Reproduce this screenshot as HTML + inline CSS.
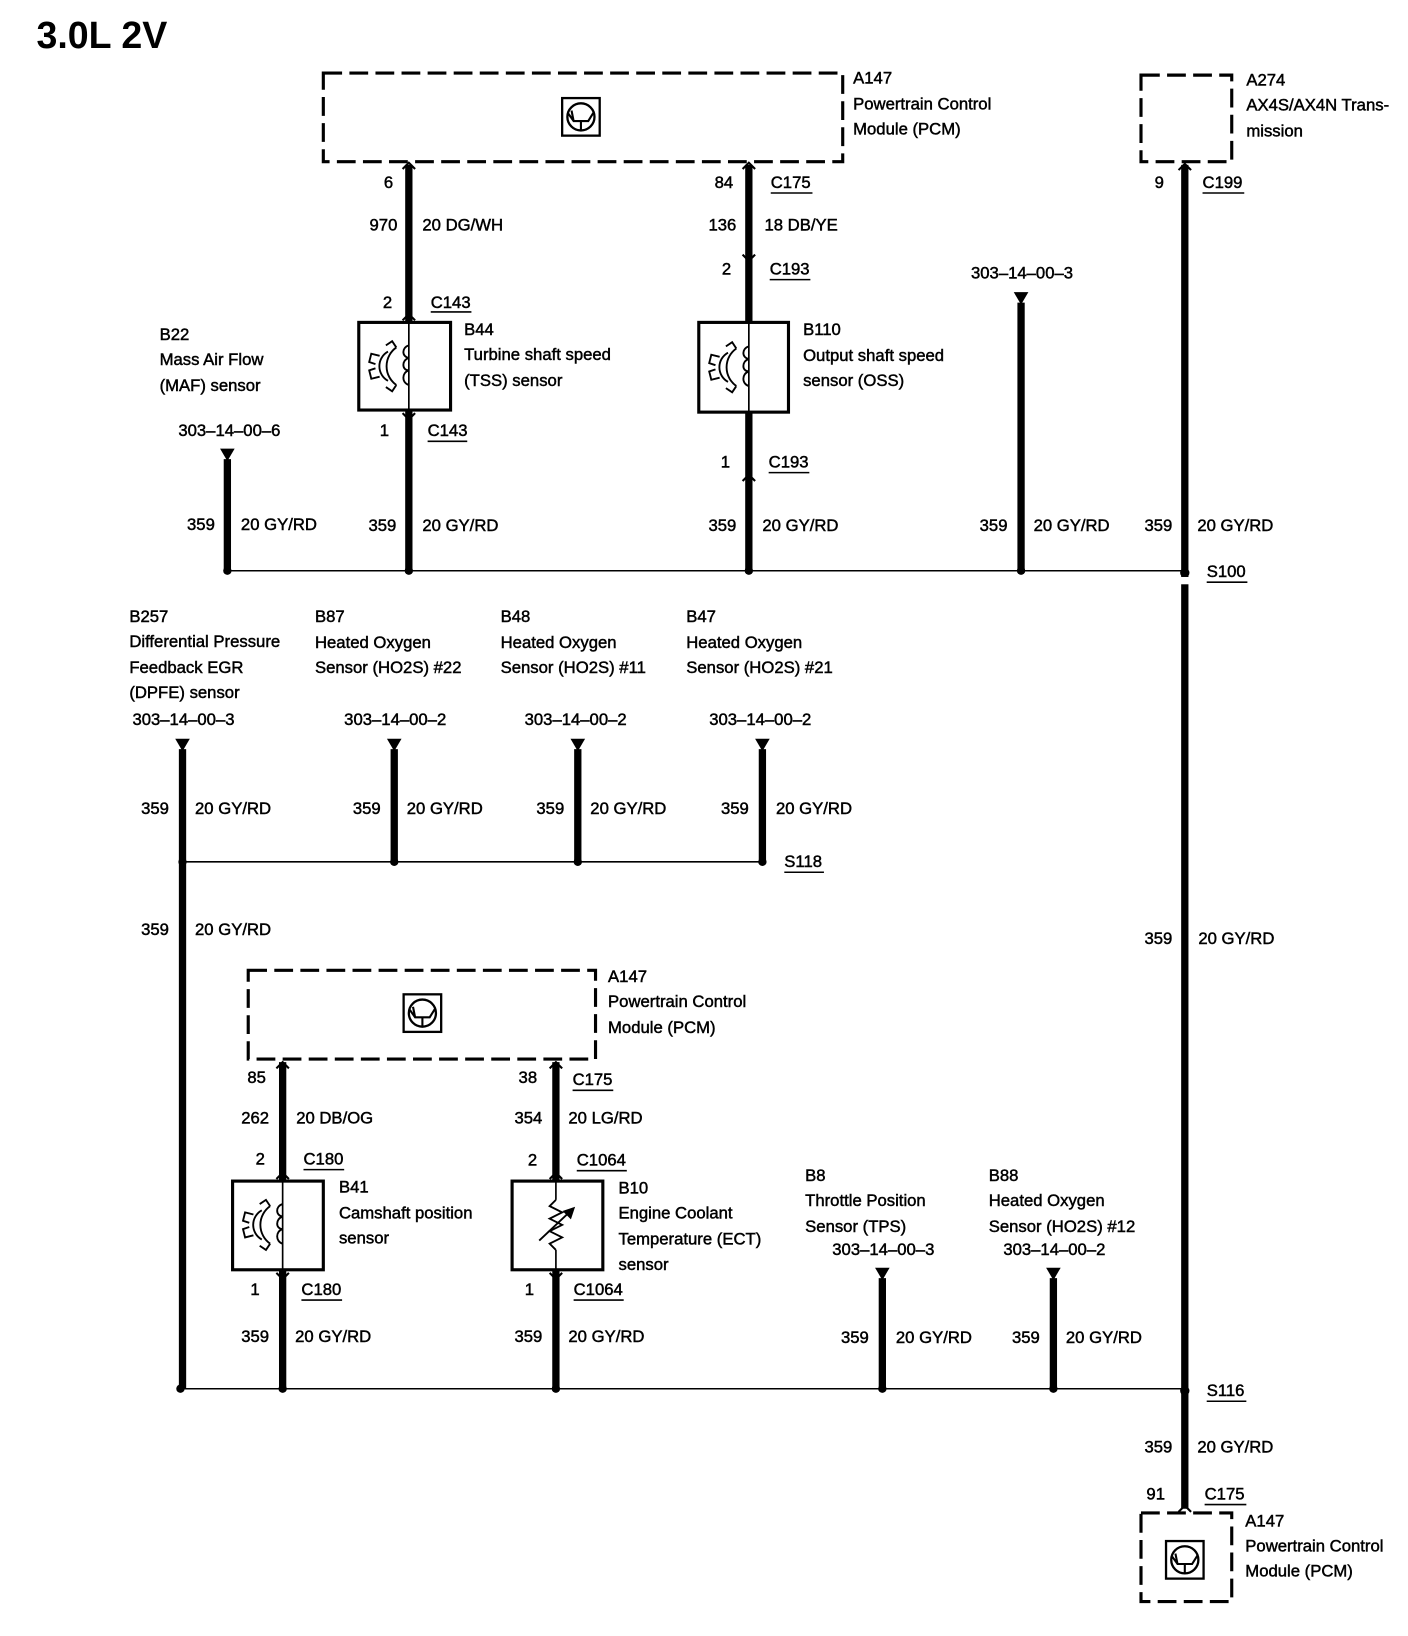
<!DOCTYPE html>
<html><head><meta charset="utf-8"><style>
html,body{margin:0;padding:0;background:#fff;}
svg{display:block;}
text{font-family:"Liberation Sans",Arial,sans-serif;font-size:16px;fill:#000;stroke:#000;stroke-width:0.45;}
.t{font-weight:bold;font-size:36px;stroke:none;}
.r{text-anchor:end;}
</style></head><body>
<svg width="1408" height="1636" viewBox="0 0 1350 1568" preserveAspectRatio="none" xmlns="http://www.w3.org/2000/svg">
<defs>
  <g id="pcm"><rect x="-18" y="-18" width="36" height="36" fill="none" stroke="#000" stroke-width="2.2"/><circle cx="0" cy="0" r="13" fill="none" stroke="#000" stroke-width="2.2"/><path d="M-12,-3 L-7,4 L7,4 L12,-4 M0,4 L0,13 M-9,-6 L-7,4" fill="none" stroke="#000" stroke-width="2"/></g>
  <g id="gear" fill="none" stroke="#000" stroke-width="1.8"><path d="M14,-18 A22,22 0 0 0 14,18 M14,-18 L10,-24 L4,-20 M14,18 L10,24 L4,20 M-2,-10 L-10,-12 L-12,-4 L-6,-2 M-2,10 L-10,12 L-12,4 L-6,2 M6,-14 A16,16 0 0 0 6,14"/></g>
  <g id="coil" fill="none" stroke="#000" stroke-width="1.8"><path d="M0,-20 C-7,-18 -7,-9 0,-8 C-7,-6 -7,4 0,4 C-7,6 -7,16 0,18"/></g>
  <g id="tri"><polygon points="-7,0 7,0 0,12" fill="#000"/></g>
  <g id="chevU"><path d="M-6,6 L0,0 L6,6" fill="none" stroke="#000" stroke-width="2"/></g>
  <g id="chevD"><path d="M-6,-6 L0,0 L6,-6" fill="none" stroke="#000" stroke-width="2"/></g>
</defs>
<text class="t" x="35" y="46">3.0L 2V</text>

<g stroke="#000" stroke-width="1.5" fill="none">
<line x1="218" y1="547" x2="1136" y2="547"/>
<line x1="175" y1="826" x2="731" y2="826"/>
<line x1="173" y1="1331" x2="1136" y2="1331"/>
</g>
<g stroke="#000" stroke-width="3" fill="none" stroke-dasharray="18,7">
<rect x="310" y="70" width="498" height="85"/>
<rect x="1094" y="72" width="87" height="83"/>
<rect x="238" y="930" width="333" height="85"/>
<rect x="1094" y="1450" width="87" height="85"/>
</g>
<use href="#pcm" x="557" y="112"/>
<use href="#pcm" x="405" y="971"/>
<use href="#pcm" x="1136" y="1495"/>

<g stroke="#000" stroke-width="7">
<line x1="392" y1="158" x2="392" y2="309"/>
<line x1="392" y1="393" x2="392" y2="547"/>
<line x1="718" y1="158" x2="718" y2="309"/>
<line x1="718" y1="395" x2="718" y2="547"/>
<line x1="218" y1="440" x2="218" y2="547"/>
<line x1="979" y1="290" x2="979" y2="547"/>
<line x1="1136" y1="158" x2="1136" y2="1446"/>
<line x1="175" y1="718" x2="175" y2="1331"/>
<line x1="378" y1="718" x2="378" y2="826"/>
<line x1="554" y1="718" x2="554" y2="826"/>
<line x1="731" y1="718" x2="731" y2="826"/>
<line x1="271" y1="1018" x2="271" y2="1132"/>
<line x1="271" y1="1217" x2="271" y2="1331"/>
<line x1="533" y1="1018" x2="533" y2="1132"/>
<line x1="533" y1="1217" x2="533" y2="1331"/>
<line x1="846" y1="1225" x2="846" y2="1331"/>
<line x1="1010" y1="1225" x2="1010" y2="1331"/>
</g>
<use href="#tri" x="218" y="430"/><use href="#tri" x="979" y="280"/>
<use href="#tri" x="175" y="708"/><use href="#tri" x="378" y="708"/>
<use href="#tri" x="554" y="708"/><use href="#tri" x="731" y="708"/>
<use href="#tri" x="846" y="1215"/><use href="#tri" x="1010" y="1215"/>
<use href="#chevU" x="392" y="156"/><use href="#chevU" x="718" y="156"/><use href="#chevU" x="1136" y="157"/>
<use href="#chevD" x="718" y="250"/><use href="#chevU" x="392" y="301"/><use href="#chevD" x="392" y="402"/>
<use href="#chevU" x="718" y="455"/>
<use href="#chevU" x="271" y="1018"/><use href="#chevU" x="533" y="1018"/>
<use href="#chevU" x="271" y="1124"/><use href="#chevU" x="533" y="1124"/>
<use href="#chevD" x="271" y="1226"/><use href="#chevD" x="533" y="1226"/>
<use href="#chevU" x="1136" y="1443"/>

<g fill="#000">
<circle cx="218" cy="547" r="4"/><circle cx="392" cy="547" r="4"/><circle cx="718" cy="547" r="4"/><circle cx="979" cy="547" r="4"/><circle cx="1136" cy="549" r="4.5"/>
<circle cx="175" cy="826" r="4"/><circle cx="378" cy="826" r="4"/><circle cx="554" cy="826" r="4"/><circle cx="731" cy="826" r="4"/>
<circle cx="173" cy="1331" r="4"/><circle cx="271" cy="1331" r="4"/><circle cx="533" cy="1331" r="4"/><circle cx="846" cy="1331" r="4"/><circle cx="1010" cy="1331" r="4"/><circle cx="1136" cy="1333" r="4.5"/>
</g>
<line x1="1136" y1="553" x2="1136" y2="560" stroke="#fff" stroke-width="9"/>

<g fill="none" stroke="#000" stroke-width="3">
<rect x="344" y="309" width="88" height="84"/>
<rect x="670" y="309" width="86" height="86"/>
<rect x="223" y="1132" width="87" height="85"/>
<rect x="491" y="1132" width="87" height="85"/>
</g>
<g stroke="#000" stroke-width="1.6">
<line x1="392" y1="309" x2="392" y2="393"/><line x1="718" y1="309" x2="718" y2="395"/><line x1="271" y1="1132" x2="271" y2="1217"/>
<line x1="533" y1="1132" x2="533" y2="1150"/><line x1="533" y1="1198" x2="533" y2="1217"/>
</g>
<use href="#gear" x="366" y="351"/><use href="#coil" x="392" y="351"/>
<use href="#gear" x="692" y="352"/><use href="#coil" x="718" y="352"/>
<use href="#gear" x="245" y="1174"/><use href="#coil" x="271" y="1174"/>
<g fill="none" stroke="#000" stroke-width="1.8">
<path d="M533,1150 L527,1156 L539,1162 L527,1168 L539,1174 L527,1180 L539,1186 L527,1192 L533,1198"/>
<path d="M517,1189 L550,1158"/><polygon points="550,1158 541,1161 547,1167" fill="#000"/>
</g>

<g stroke="#000" stroke-width="1.5">
<line x1="413" y1="299" x2="452" y2="299"/><line x1="410" y1="423" x2="448" y2="423"/>
<line x1="739" y1="185" x2="779" y2="185"/><line x1="738" y1="268" x2="777" y2="268"/><line x1="737" y1="453" x2="776" y2="453"/>
<line x1="1153" y1="185" x2="1193" y2="185"/><line x1="1157" y1="558" x2="1196" y2="558"/>
<line x1="752" y1="836" x2="790" y2="836"/><line x1="1157" y1="1343" x2="1195" y2="1343"/><line x1="1155" y1="1442" x2="1195" y2="1442"/>
<line x1="291" y1="1121" x2="330" y2="1121"/><line x1="289" y1="1246" x2="328" y2="1246"/>
<line x1="549" y1="1045" x2="588" y2="1045"/><line x1="553" y1="1122" x2="601" y2="1122"/><line x1="550" y1="1246" x2="598" y2="1246"/>
</g>

<text x="818" y="80">A147</text><text x="818" y="105">Powertrain Control</text><text x="818" y="129">Module (PCM)</text>
<text x="1195" y="82">A274</text><text x="1195" y="106">AX4S/AX4N Trans-</text><text x="1195" y="131">mission</text>

<text class="r" x="377" y="180">6</text>
<text class="r" x="381" y="221">970</text><text x="405" y="221">20 DG/WH</text>
<text class="r" x="376" y="295">2</text><text x="413" y="295">C143</text>
<text x="445" y="321">B44</text><text x="445" y="345">Turbine shaft speed</text><text x="445" y="370">(TSS) sensor</text>
<text class="r" x="373" y="418">1</text><text x="410" y="418">C143</text>
<text class="r" x="380" y="509">359</text><text x="405" y="509">20 GY/RD</text>

<text class="r" x="703" y="180">84</text><text x="739" y="180">C175</text>
<text class="r" x="706" y="221">136</text><text x="733" y="221">18 DB/YE</text>
<text class="r" x="701" y="263">2</text><text x="738" y="263">C193</text>
<text x="770" y="321">B110</text><text x="770" y="346">Output shaft speed</text><text x="770" y="370">sensor (OSS)</text>
<text class="r" x="700" y="448">1</text><text x="737" y="448">C193</text>
<text class="r" x="706" y="509">359</text><text x="731" y="509">20 GY/RD</text>

<text x="153" y="326">B22</text><text x="153" y="350">Mass Air Flow</text><text x="153" y="375">(MAF) sensor</text>
<text x="171" y="418">303–14–00–6</text>
<text class="r" x="206" y="508">359</text><text x="231" y="508">20 GY/RD</text>

<text x="931" y="267">303–14–00–3</text>
<text class="r" x="966" y="509">359</text><text x="991" y="509">20 GY/RD</text>

<text class="r" x="1116" y="180">9</text><text x="1153" y="180">C199</text>
<text class="r" x="1124" y="509">359</text><text x="1148" y="509">20 GY/RD</text>
<text x="1157" y="553">S100</text>
<text class="r" x="1124" y="905">359</text><text x="1149" y="905">20 GY/RD</text>
<text x="1157" y="1338">S116</text>
<text class="r" x="1124" y="1392">359</text><text x="1148" y="1392">20 GY/RD</text>
<text class="r" x="1117" y="1437">91</text><text x="1155" y="1437">C175</text>
<text x="1194" y="1463">A147</text><text x="1194" y="1487">Powertrain Control</text><text x="1194" y="1511">Module (PCM)</text>

<text x="124" y="596">B257</text><text x="124" y="620">Differential Pressure</text><text x="124" y="645">Feedback EGR</text><text x="124" y="669">(DPFE) sensor</text>
<text x="127" y="695">303–14–00–3</text>
<text class="r" x="162" y="780">359</text><text x="187" y="780">20 GY/RD</text>
<text class="r" x="162" y="896">359</text><text x="187" y="896">20 GY/RD</text>

<text x="302" y="596">B87</text><text x="302" y="621">Heated Oxygen</text><text x="302" y="645">Sensor (HO2S) #22</text>
<text x="330" y="695">303–14–00–2</text>
<text class="r" x="365" y="780">359</text><text x="390" y="780">20 GY/RD</text>

<text x="480" y="596">B48</text><text x="480" y="621">Heated Oxygen</text><text x="480" y="645">Sensor (HO2S) #11</text>
<text x="503" y="695">303–14–00–2</text>
<text class="r" x="541" y="780">359</text><text x="566" y="780">20 GY/RD</text>

<text x="658" y="596">B47</text><text x="658" y="621">Heated Oxygen</text><text x="658" y="645">Sensor (HO2S) #21</text>
<text x="680" y="695">303–14–00–2</text>
<text class="r" x="718" y="780">359</text><text x="744" y="780">20 GY/RD</text>
<text x="752" y="831">S118</text>

<text x="583" y="941">A147</text><text x="583" y="965">Powertrain Control</text><text x="583" y="990">Module (PCM)</text>

<text class="r" x="255" y="1038">85</text>
<text class="r" x="258" y="1077">262</text><text x="284" y="1077">20 DB/OG</text>
<text class="r" x="254" y="1116">2</text><text x="291" y="1116">C180</text>
<text x="325" y="1143">B41</text><text x="325" y="1168">Camshaft position</text><text x="325" y="1192">sensor</text>
<text class="r" x="249" y="1241">1</text><text x="289" y="1241">C180</text>
<text class="r" x="258" y="1286">359</text><text x="283" y="1286">20 GY/RD</text>

<text class="r" x="515" y="1038">38</text><text x="549" y="1040">C175</text>
<text class="r" x="520" y="1077">354</text><text x="545" y="1077">20 LG/RD</text>
<text class="r" x="515" y="1117">2</text><text x="553" y="1117">C1064</text>
<text x="593" y="1144">B10</text><text x="593" y="1168">Engine Coolant</text><text x="593" y="1193">Temperature (ECT)</text><text x="593" y="1217">sensor</text>
<text class="r" x="512" y="1241">1</text><text x="550" y="1241">C1064</text>
<text class="r" x="520" y="1286">359</text><text x="545" y="1286">20 GY/RD</text>

<text x="772" y="1132">B8</text><text x="772" y="1156">Throttle Position</text><text x="772" y="1181">Sensor (TPS)</text>
<text x="798" y="1203">303–14–00–3</text>
<text class="r" x="833" y="1287">359</text><text x="859" y="1287">20 GY/RD</text>

<text x="948" y="1132">B88</text><text x="948" y="1156">Heated Oxygen</text><text x="948" y="1181">Sensor (HO2S) #12</text>
<text x="962" y="1203">303–14–00–2</text>
<text class="r" x="997" y="1287">359</text><text x="1022" y="1287">20 GY/RD</text>
</svg>
</body></html>
